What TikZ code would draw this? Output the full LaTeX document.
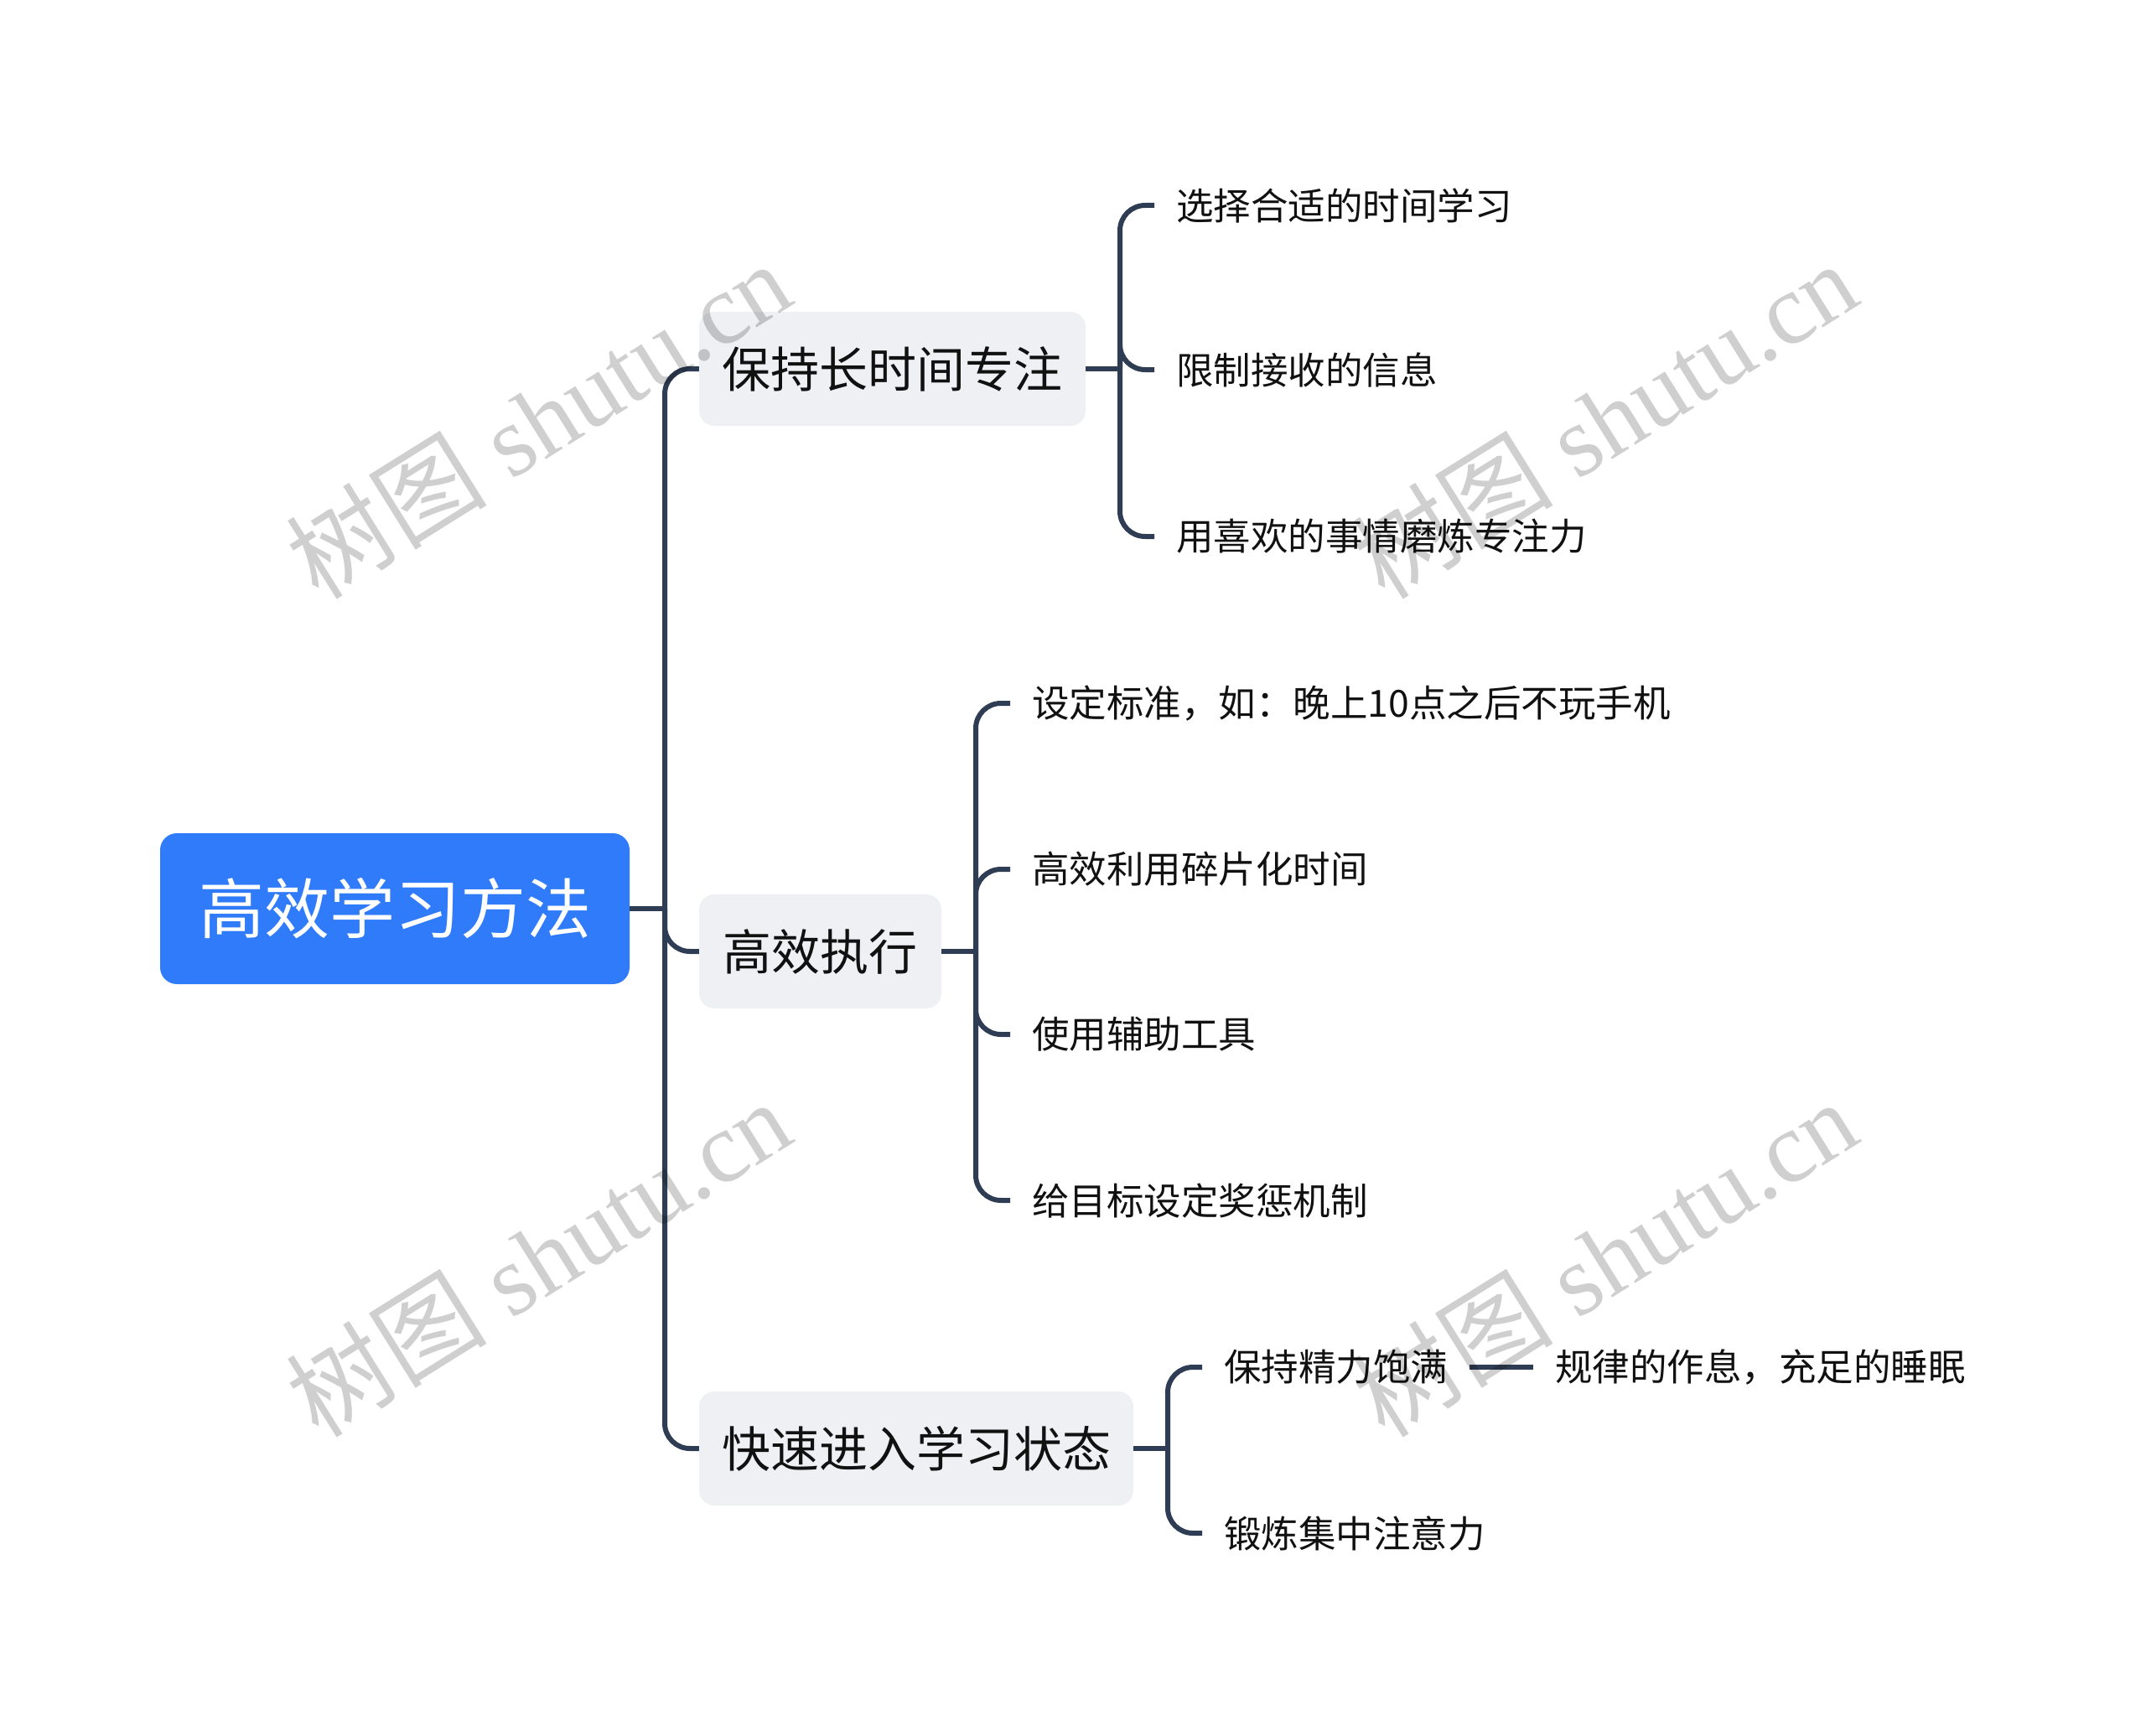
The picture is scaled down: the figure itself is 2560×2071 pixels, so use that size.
\documentclass[tikz,border=0pt]{standalone}
\usepackage{fontspec}
\setmainfont{Noto Sans CJK SC}
\newfontfamily\wmlatin{Liberation Serif}
\newfontfamily\wmcjk{Noto Sans CJK SC}
\definecolor{conn}{HTML}{2F3D54}
\definecolor{rootblue}{HTML}{2F7BFA}
\definecolor{topicgray}{HTML}{EEF0F3}
\definecolor{txt}{HTML}{111111}
\begin{document}
\begin{tikzpicture}[x=1pt,y=-1pt,
  rootbox/.style={fill=rootblue, rounded corners=20pt, minimum width=560pt, minimum height=180pt,
    text=white, font=\fontsize{78}{82}\selectfont, inner sep=0pt},
  topicbox/.style={fill=topicgray, rounded corners=18pt, minimum height=136pt,
    text=txt, font=\fontsize{58}{62}\selectfont, inner sep=0pt},
  leaf/.style={anchor=west, text=txt, font=\fontsize{44.5}{48}\selectfont, inner xsep=26pt, inner ysep=0pt},
  link/.style={draw=conn, line width=6pt, rounded corners=30pt},
  wm/.style={rotate=32, text=black, opacity=0.19}
]
\useasboundingbox (0,0) rectangle (2560,2071);

% main nodes
\node[rootbox] (root) at (471,1084) {高效学习方法};
\node[topicbox, minimum width=461pt] (c1) at (1064.5,440) {保持长时间专注};
\node[topicbox, minimum width=289pt] (c2) at (978.5,1135) {高效执行};
\node[topicbox, minimum width=518pt] (c3) at (1093,1728) {快速进入学习状态};

% leaves
\node[leaf] (a1) at (1377,245) {选择合适的时间学习};
\node[leaf] (a2) at (1377,441) {限制接收的信息};
\node[leaf] (a3) at (1377,640) {用喜欢的事情磨炼专注力};

\node[leaf] (b1) at (1205,839) {设定标准，如：晚上10点之后不玩手机};
\node[leaf] (b2) at (1205,1037) {高效利用碎片化时间};
\node[leaf] (b3) at (1205,1234) {使用辅助工具};
\node[leaf] (b4) at (1205,1432) {给目标设定奖惩机制};

\node[leaf] (d1) at (1434,1631) {保持精力饱满};
\node[leaf] (d2) at (1434,1829) {锻炼集中注意力};
\node[leaf] (e1) at (1829,1631) {规律的作息，充足的睡眠};

% junction coordinates
\coordinate (t0) at (793,1084);
\coordinate (t1) at (1336,440);
\coordinate (t2) at (1164,1135);
\coordinate (t3) at (1393,1728);

% connectors
\draw[link] (root.east) -- (t0);
\draw[link] (t0) |- (c1.west);
\draw[link] (t0) |- (c2.west);
\draw[link] (t0) |- (c3.west);

\draw[link] (c1.east) -- (t1);
\draw[link] (t1) |- (a1.west);
\draw[link] (t1) |- (a2.west);
\draw[link] (t1) |- (a3.west);

\draw[link] (c2.east) -- (t2);
\draw[link] (t2) |- (b1.west);
\draw[link] (t2) |- (b2.west);
\draw[link] (t2) |- (b3.west);
\draw[link] (t2) |- (b4.west);

\draw[link] (c3.east) -- (t3);
\draw[link] (t3) |- (d1.west);
\draw[link] (t3) |- (d2.west);

\draw[link] (d1.east) -- (e1.west);

% watermarks
\foreach \wx/\wy [count=\i] in {642/500, 1914/500, 642/1500, 1914/1500}{
  \node[wm] (wm\i) at (\wx,\wy) {\fontsize{120}{124}\selectfont\wmcjk 树图\wmlatin\ shutu.cn};
}
\end{tikzpicture}
\end{document}
